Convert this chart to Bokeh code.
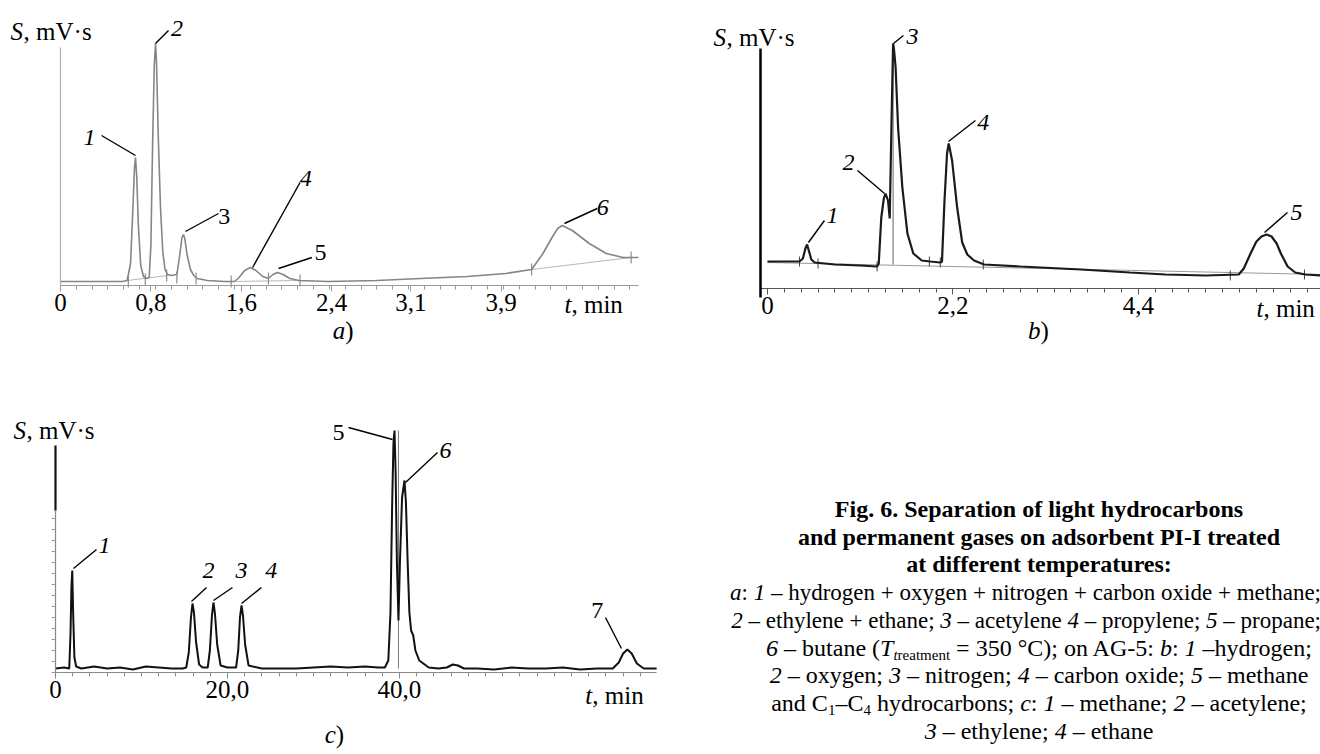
from bokeh.plotting import figure
from bokeh.models import FixedTicker, Label, Div, CustomJSTickFormatter, Range1d, LinearAxis
from bokeh.layouts import row, column
from bokeh.embed import file_html
from bokeh.resources import INLINE

FONT = "Liberation Serif"

# ---------------- panel a (PI-I, 350 °C) ----------------
a_time = [0.00, 0.40, 0.55, 0.59, 0.62, 0.64, 0.655, 0.664, 0.675, 0.69, 0.71, 0.735, 0.76, 0.785,
          0.80, 0.815, 0.83, 0.841, 0.85, 0.865, 0.885, 0.905, 0.925, 0.947, 0.98, 1.03, 1.055,
          1.075, 1.088, 1.10, 1.12, 1.15, 1.18, 1.21, 1.30, 1.45, 1.54, 1.58, 1.63, 1.68, 1.73,
          1.79, 1.84, 1.88, 1.92, 1.97, 2.03, 2.11, 2.37, 2.80, 3.19, 3.60, 3.94, 4.17, 4.27,
          4.35, 4.40, 4.44, 4.53, 4.68, 4.83, 4.98, 5.115]
a_signal = [4, 4, 4, 5, 22, 75, 118, 128, 108, 58, 20, 9, 7, 8,
            40, 140, 220, 242, 222, 150, 78, 34, 16, 11, 10, 11, 30,
            48, 51, 47, 31, 16, 10, 7, 5, 4, 4, 8, 15, 18, 15,
            9, 7, 11, 13, 11, 7, 5, 4, 5, 7, 9, 12, 16, 32,
            48, 57, 60, 55, 42, 32, 28, 28]
a_ticks = [0, 0.8, 1.6, 2.4, 3.1, 3.9]
a_base_t = [[0.59, 0.95], [1.51, 2.12], [4.17, 5.05]]
a_base_s = [[5, 10], [4, 5], [16, 28]]
a_mark_t = [0.60, 0.75, 0.94, 1.03, 1.20, 1.51, 1.84, 2.12, 4.17, 5.05]
a_mark_s = [4, 6, 10, 8, 7, 4, 7, 5, 16, 28]
a_peak_names = ["1", "2", "3", "4", "5", "6"]
a_peak_t = [0.664, 0.841, 1.106, 1.70, 1.93, 4.46]
a_peak_s = [130, 242, 54, 18, 17, 62]

# ---------------- panel b (AG-5) ----------------
b_time = [0.00, 0.38, 0.42, 0.45, 0.47, 0.49, 0.52, 0.56, 0.80, 1.10, 1.30, 1.32, 1.35, 1.38,
          1.40, 1.43, 1.45, 1.47, 1.49, 1.50, 1.52, 1.55, 1.60, 1.66, 1.73, 1.83, 1.93, 2.05,
          2.07, 2.10, 2.13, 2.15, 2.19, 2.25, 2.31, 2.37, 2.45, 2.57, 3.00, 3.72, 4.30, 4.72,
          5.20, 5.59, 5.65, 5.73, 5.80, 5.86, 5.92, 5.98, 6.04, 6.09, 6.17, 6.26, 6.38, 6.56]
b_signal = [27, 27, 30, 40, 44, 38, 29, 26, 24, 23, 22, 25, 71, 90,
            95, 88, 70, 160, 245, 240, 221, 160, 101, 55, 35, 28, 27, 26,
            27, 88, 135, 145, 128, 81, 46, 34, 28, 24, 22, 19, 16, 14,
            13, 14, 20, 35, 47, 52, 54, 52, 45, 35, 22, 16, 14, 13]
b_ticks = [0, 2.2, 4.4]
b_base_t = [[0.0, 6.56]]
b_base_s = [[26, 14]]
b_mark_t = [0.38, 0.60, 1.30, 1.92, 2.05, 2.56, 5.49, 6.37]
b_mark_s = [27, 25, 22, 27, 26, 24, 13, 14]
b_drop_t = [1.49]
b_drop_lo = [24]
b_drop_hi = [245]
b_peak_names = ["1", "2", "3", "4", "5"]
b_peak_t = [0.486, 1.388, 1.495, 2.147, 5.896]
b_peak_s = [46, 95, 245, 147, 56]

# ---------------- panel c ----------------
c_time = [0.0, 1.0, 1.6, 1.75, 1.85, 1.95, 2.05, 2.2, 2.4, 3.0,
          4.5, 6.0, 7.5, 9.0, 10.5, 12.0, 13.5, 14.8, 15.2, 15.5,
          15.75, 15.93, 16.1, 16.35, 16.7, 17.1, 17.7, 17.95, 18.2, 18.37,
          18.55, 18.8, 19.2, 20.0, 21.0, 21.25, 21.45, 21.63, 21.8, 22.05,
          22.45, 24.0, 26.0, 28.0, 30.0, 32.0, 34.0, 36.0, 37.5, 38.3,
          38.7, 38.95, 39.15, 39.3, 39.42, 39.55, 39.7, 39.88, 40.05, 40.3,
          40.58, 40.75, 40.95, 41.15, 41.35, 41.6, 41.85, 42.3, 43.4, 44.5,
          45.5, 46.2, 46.8, 47.5, 49.0, 51.0, 53.0, 55.0, 57.0, 59.0,
          61.0, 63.0, 64.8, 65.5, 66.0, 66.5, 67.0, 67.6, 68.4, 69.9]
c_signal = [4, 5, 4, 40, 85, 102, 60, 15, 6, 4,
            6, 4, 5, 3, 6, 5, 4, 4, 5, 20,
            55, 69, 60, 30, 8, 5, 5, 22, 58, 70,
            58, 28, 7, 5, 5, 22, 55, 67, 57, 28,
            7, 4, 4, 4, 5, 6, 5, 6, 5, 5,
            12, 60, 170, 230, 242, 200, 110, 52, 110, 175,
            192, 170, 110, 60, 42, 37, 22, 12, 5, 4,
            5, 8, 7, 4, 4, 3, 5, 4, 4, 5,
            3, 4, 4, 10, 19, 23, 19, 9, 4, 4]
c_ticks = [0, 20, 40]
c_drop_t = [39.88]
c_drop_lo = [4]
c_drop_hi = [242]
c_peak_names = ["1", "2", "3", "4", "5", "6", "7"]
c_peak_t = [2.09, 15.81, 18.37, 21.63, 39.19, 40.70, 65.81]
c_peak_s = [104, 71, 72, 69, 233, 190, 24]

# (html text, bold, fit-right)
caption_lines = [
    ("Fig. 6. Separation of light hydrocarbons", True, False),
    ("and permanent gases on adsorbent PI-I treated", True, False),
    ("at different temperatures:", True, False),
    ("<i>a</i>: <i>1</i> – hydrogen + oxygen + nitrogen + carbon oxide + methane;", False, True),
    ("<i>2</i> – ethylene + ethane; <i>3</i> – acetylene <i>4</i> – propylene; <i>5</i> – propane;", False, True),
    ("<i>6</i> – butane (<i>T</i><sub><i>t</i>reatment</sub> = 350 °C); on AG-5: <i>b</i>: <i>1</i> –hydrogen;", False, False),
    ("<i>2</i> – oxygen; <i>3</i> – nitrogen; <i>4</i> – carbon oxide; <i>5</i> – methane", False, False),
    ("and C<sub>1</sub>–C<sub>4</sub> hydrocarbons; <i>c</i>: <i>1</i> – methane; <i>2</i> – acetylene;", False, False),
    ("<i>3</i> – ethylene; <i>4</i> – ethane", False, False),
]

FMT = "return tick == 0 ? '0' : tick.toFixed(1).replace('.', ',');"


def make_panel(width, height, xr, yr, ticks, minor, xbounds, axis_col):
    p = figure(width=width, height=height, x_range=Range1d(*xr), y_range=Range1d(*yr),
               output_backend="svg", toolbar_location=None,
               x_axis_location=None, y_axis_location=None,
               min_border_left=0, min_border_right=0, min_border_top=0, min_border_bottom=0)
    p.xgrid.visible = False
    p.ygrid.visible = False
    p.outline_line_color = None
    p.background_fill_color = "white"
    p.border_fill_color = "white"
    ax = LinearAxis(fixed_location=0, bounds=xbounds,
                    ticker=FixedTicker(ticks=ticks, minor_ticks=minor),
                    formatter=CustomJSTickFormatter(code=FMT))
    ax.axis_line_color = axis_col
    ax.axis_line_width = 1.2
    ax.major_tick_line_color = axis_col
    ax.minor_tick_line_color = axis_col
    ax.major_tick_out = 6
    ax.major_tick_in = 0
    ax.minor_tick_out = 4
    ax.minor_tick_in = 0
    ax.major_label_text_font = FONT
    ax.major_label_text_font_size = "25px"
    ax.major_label_text_color = "black"
    ax.major_label_standoff = 2
    p.add_layout(ax, "below")
    return p


def add_yaxis(p, loc, bounds, color, width, yminor=None):
    ay = LinearAxis(fixed_location=loc, bounds=bounds,
                    ticker=FixedTicker(ticks=[], minor_ticks=yminor or []))
    ay.axis_line_color = color
    ay.axis_line_width = width
    ay.minor_tick_line_color = "#9a9a9a"
    ay.minor_tick_out = 4
    ay.minor_tick_in = 0
    ay.major_tick_line_color = None
    ay.major_label_text_font_size = "0px"
    p.add_layout(ay, "left")


def label(p, x, y, text, size="25px", style="normal", align="left", xoff=0):
    p.add_layout(Label(x=x, y=y, text=text, text_font=FONT, text_font_size=size,
                       text_font_style=style, text_align=align, text_baseline="middle",
                       x_offset=xoff, text_color="black"))


def axis_texts(p, sx, sy, tx, ty):
    label(p, sx, sy, "S", style="italic")
    label(p, sx, sy, ", mV·s", xoff=13)
    label(p, tx, ty, "t", style="italic")
    label(p, tx, ty, ", min", xoff=7)


def sub_label(p, x, y, letter):
    label(p, x, y, letter, style="italic", align="right")
    label(p, x, y, ")", align="left")


def peak_labels(p, names, pt, ps, ex, ey, lx, ly, styles):
    p.segment(x0=pt, y0=ps, x1=ex, y1=ey, line_color="black", line_width=1.4)
    for n, x, y, st in zip(names, lx, ly, styles):
        label(p, x, y, n, size="24px", style=st, align="center")


# ---- panel a : canvas covers page x 0..668, y 0..348
pa = make_panel(668, 348, (-0.531, 5.381), (-63, 285), a_ticks,
                [i * 0.14 for i in range(37)], (0, 5.115), "#9a9a9a")
add_yaxis(pa, 0, (0, 238), "#b0b0b0", 1.2)
pa.multi_line(xs=a_base_t, ys=a_base_s, line_color="#b8b8b8", line_width=1)
pa.segment(x0=a_mark_t, y0=[s - 6 for s in a_mark_s], x1=a_mark_t, y1=[s + 6 for s in a_mark_s],
           line_color="#777777", line_width=1)
pa.line(a_time, a_signal, line_color="#858585", line_width=1.6)
peak_labels(pa, a_peak_names, a_peak_t, a_peak_s,
            [0.363, 0.956, 1.398, 2.12, 2.225, 4.75],
            [150, 255, 72, 103, 28, 77],
            [0.257, 1.03, 1.45, 2.17, 2.30, 4.80],
            [148, 257, 69, 107, 33, 78],
            ["italic", "italic", "normal", "italic", "normal", "italic"])
axis_texts(pa, -0.442, 254, 4.46, -19)
sub_label(pa, 2.52, -45, "a")

# ---- panel b : canvas covers page x 668..1320, y 0..348
pb = make_panel(652, 348, (-1.174, 6.560), (-60, 288), b_ticks,
                [i * 0.2 for i in range(33)], (-0.083, 6.56), "#555555")
add_yaxis(pb, -0.083, (-9, 240), "black", 2.5)
pb.multi_line(xs=b_base_t, ys=b_base_s, line_color="#9a9a9a", line_width=1)
pb.segment(x0=b_mark_t, y0=[s - 5 for s in b_mark_s], x1=b_mark_t, y1=[s + 5 for s in b_mark_s],
           line_color="#444444", line_width=1)
pb.segment(x0=b_drop_t, y0=b_drop_lo, x1=b_drop_t, y1=b_drop_hi, line_color="#666666", line_width=1)
pb.line(b_time, b_signal, line_color="#1a1a1a", line_width=2.2)
peak_labels(pb, b_peak_names, b_peak_t, b_peak_s,
            [0.676, 1.068, 1.613, 2.467, 6.168],
            [68, 118, 253, 168, 76],
            [0.77, 0.96, 1.72, 2.56, 6.275],
            [73, 126, 252, 166, 76],
            ["italic"] * 5)
axis_texts(pb, -0.64, 251, 5.80, -20)
sub_label(pb, 3.24, -42, "b")

# ---- panel c : canvas covers page x 0..668, y 348..753
pc = make_panel(668, 405, (-6.395, 71.28), (-81, 324), c_ticks,
                [i * 2.0 for i in range(35)], (0, 69.9), "#8a8a8a")
add_yaxis(pc, 0, (-5, 162), "#8a8a8a", 1.2, yminor=[i * 11.0 for i in range(15)])
add_yaxis(pc, 0, (162, 227), "#111111", 2.2)
pc.segment(x0=c_drop_t, y0=c_drop_lo, x1=c_drop_t, y1=c_drop_hi, line_color="#777777", line_width=1)
pc.line(c_time, c_signal, line_color="#111111", line_width=2)
peak_labels(pc, c_peak_names, c_peak_t, c_peak_s,
            [4.77, 17.56, 20.58, 23.95, 34.07, 44.42, 63.95],
            [123, 85, 85, 85, 245, 220, 55],
            [5.70, 17.79, 21.63, 25.1, 32.9, 45.35, 63.0],
            [127, 102, 102, 102, 240, 222, 62],
            ["italic", "italic", "italic", "italic", "normal", "italic", "normal"])
axis_texts(pc, -4.88, 242, 61.6, -23)
sub_label(pc, 32.6, -62, "c")

# ---- caption (Div covers page x 668..1320, y 348..753; text centred at x = 1034)
parts = []
for txt, bold, fit in caption_lines:
    if fit:
        style = "display:flex; justify-content:flex-end; width:648px; font-size:23px;"
    else:
        style = "display:flex; justify-content:center; width:732px;"
    if bold:
        style += " font-weight:bold;"
    parts.append("<div style=\"%s\"><span style=\"white-space:nowrap;\">%s</span></div>" % (style, txt))
html = ("<style>sub{font-size:15px; line-height:0; vertical-align:-4px;}</style>"
        "<div style=\"padding-top:143px; font-family:'Liberation Serif', serif; "
        "font-size:24px; line-height:27.7px; color:#000;\">" + "".join(parts) + "</div>")
cap = Div(text=html, width=652, height=405, styles={"overflow": "hidden"})

layout = row(column(pa, pc), column(pb, cap))
open("out.html", "w").write(file_html(layout, INLINE))
